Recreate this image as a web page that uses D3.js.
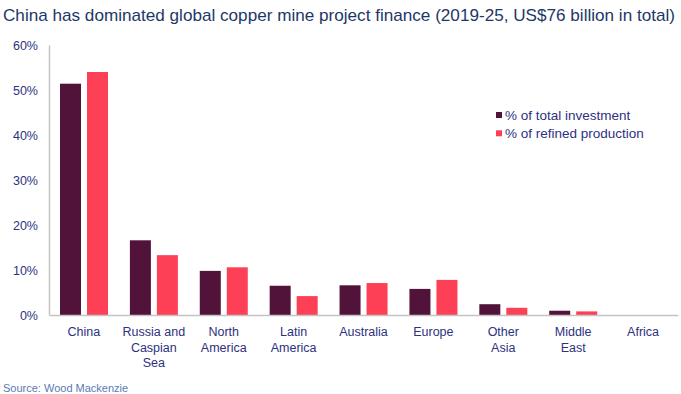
<html>
<head>
  <style>
    body { margin: 0; background: #fff; }
    text { font-family: "Liberation Sans", Arial, sans-serif; }
  </style>
  <script src="https://d3js.org/d3.v7.min.js"></script>
</head>
<body>
  <svg></svg>
  <script type="text/javascript">
    var regions = ["China", "Russia and Caspian Sea", "North America", "Latin America", "Australia", "Europe", "Other Asia", "Middle East", "Africa"]
    var regionLines = [["China"], ["Russia and", "Caspian", "Sea"], ["North", "America"], ["Latin", "America"], ["Australia"], ["Europe"], ["Other", "Asia"], ["Middle", "East"], ["Africa"]]
    var investment = [51.4, 16.6, 9.8, 6.5, 6.6, 5.8, 2.4, 0.95, 0]
    var production = [54.0, 13.3, 10.6, 4.2, 7.1, 7.8, 1.6, 0.8, 0]
    var seriesNames = ["% of total investment", "% of refined production"]
    var yTicks = [0, 10, 20, 30, 40, 50, 60]

    var colors = ["#52133b", "#fd4055"]
    var textColor = "#2e3180"

    var w = 681
    var h = 394
    var leftX = 49
    var rightX = 678
    var topY = 45
    var bottomY = 315

    var svg = d3.select("svg").attr("width", w).attr("height", h)

    var x0 = d3.scaleBand().domain(regions).range([leftX, rightX])
    var x1 = d3.scaleBand().domain([0, 1]).range([11, 59]).paddingInner(0.222)
    var y = d3.scaleLinear().domain([0, 60]).range([bottomY, topY])

    // title
    svg.append("text")
      .attr("x", 3)
      .attr("y", 21)
      .attr("fill", "#1e3768")
      .style("font-size", "17px")
      .attr("textLength", 672)
      .attr("lengthAdjust", "spacingAndGlyphs")
      .text("China has dominated global copper mine project finance (2019-25, US$76 billion in total)")

    // bars
    var groups = svg.append("g").selectAll("g")
      .data(regions)
      .enter()
      .append("g")
      .attr("transform", function(d) { return "translate(" + x0(d) + ",0)" })

    groups.selectAll("rect")
      .data(function(d, i) { return [investment[i], production[i]] })
      .enter()
      .append("rect")
      .attr("x", function(d, j) { return x1(j) })
      .attr("y", function(d) { return y(d) })
      .attr("width", x1.bandwidth())
      .attr("height", function(d) { return y(0) - y(d) })
      .attr("fill", function(d, j) { return colors[j] })

    // y axis
    var yAxis = d3.axisLeft(y)
      .tickValues(yTicks)
      .tickFormat(function(d) { return d + "%" })
      .tickSize(0)
      .tickPadding(11)

    var gy = svg.append("g")
      .attr("transform", "translate(" + leftX + ",0)")
      .call(yAxis)
    gy.select(".domain").attr("stroke", "#c4c4c4").attr("stroke-width", 1.5)
    gy.selectAll("text")
      .attr("fill", textColor)
      .style("font-size", "12.5px")
      .style("font-family", "'Liberation Sans', Arial, sans-serif")

    // x axis
    var xAxis = d3.axisBottom(x0).tickSize(0).tickFormat("")
    var gx = svg.append("g")
      .attr("transform", "translate(0," + bottomY + ")")
      .call(xAxis)
    gx.select(".domain").attr("stroke", "#c4c4c4").attr("stroke-width", 1.5)

    // category labels
    var labels = svg.append("g").selectAll("text")
      .data(regions)
      .enter()
      .append("text")
      .attr("text-anchor", "middle")
      .attr("fill", textColor)
      .style("font-size", "12.5px")
      .attr("x", function(d) { return x0(d) + x0.bandwidth() / 2 })
      .attr("y", 336)

    labels.selectAll("tspan")
      .data(function(d, i) { return regionLines[i] })
      .enter()
      .append("tspan")
      .attr("x", function() { return d3.select(this.parentNode).attr("x") })
      .attr("dy", function(d, i) { return i == 0 ? 0 : 15.5 })
      .text(function(d) { return d })

    // legend
    var legend = svg.append("g").selectAll("g")
      .data(seriesNames)
      .enter()
      .append("g")
      .attr("transform", function(d, i) { return "translate(496," + (115 + i * 18.3) + ")" })

    legend.append("rect")
      .attr("x", 0)
      .attr("y", -3)
      .attr("width", 6)
      .attr("height", 6)
      .attr("fill", function(d, i) { return colors[i] })

    legend.append("text")
      .attr("x", 9)
      .attr("y", 5)
      .attr("fill", textColor)
      .style("font-size", "13.5px")
      .text(function(d) { return d })

    // source
    svg.append("text")
      .attr("x", 3)
      .attr("y", 392)
      .attr("fill", "#5a79b5")
      .style("font-size", "11px")
      .text("Source: Wood Mackenzie")
  </script>
</body>
</html>
